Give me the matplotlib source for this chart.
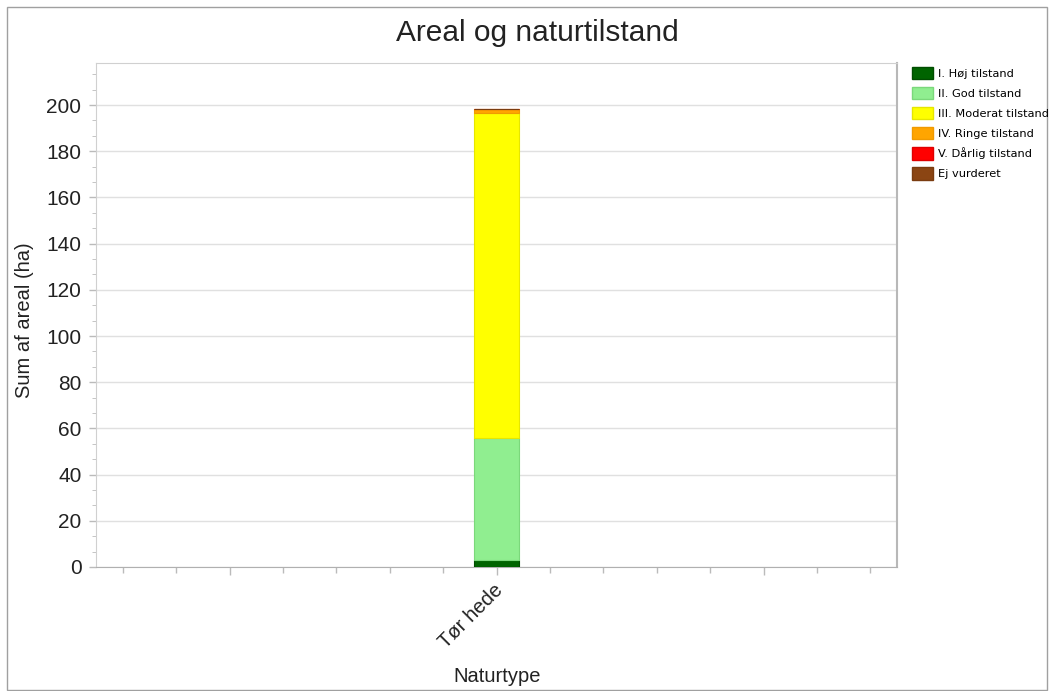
import matplotlib
matplotlib.use("Agg")
import matplotlib.pyplot as plt
from matplotlib.ticker import MultipleLocator, AutoMinorLocator, FixedLocator
from matplotlib.patches import Patch, Rectangle
from matplotlib.transforms import ScaledTranslation, blended_transform_factory
import numpy as np

categories = ["Tør hede"]
series_names = ["I. Høj tilstand", "II. God tilstand", "III. Moderat tilstand",
                "IV. Ringe tilstand", "V. Dårlig tilstand", "Ej vurderet"]
series_values = [[2.9], [52.8], [141.0], [1.7], [0.0], [0.0]]
colors = ["#006400", "#90EE90", "#FFFF00", "#FFA500", "#FF0000", "#8B4513"]
edge_colors = ["#004d00", "#7bd87b", "#e6e600", "#f09a00", "#e00000", "#7a3c10"]

plt.rcParams['font.family'] = ['Liberation Sans', 'DejaVu Sans']

fig = plt.figure(figsize=(10.54, 6.91), dpi=100)
fig.patches.append(Rectangle((7/1054, 1-690/691), (1047-7)/1054, (690-7)/691,
                             transform=fig.transFigure, fill=False,
                             edgecolor="#a0a0a0", linewidth=1.0))
ax = fig.add_axes([96/1054, 1-567/691, (897-96)/1054, (567-63)/691])

x = np.arange(len(categories))
bottom = np.zeros(len(categories))
for name, vals, c, ec in zip(series_names, series_values, colors, edge_colors):
    v = np.array(vals)
    ax.bar(x, v, width=0.17, bottom=bottom, color=c, edgecolor=ec, linewidth=0.8,
           label=name, zorder=3)
    bottom += v

ax.set_xlim(-1.5, 1.5)
ax.set_ylim(0, 218.2)
ax.yaxis.set_major_locator(MultipleLocator(20))
ax.yaxis.set_minor_locator(AutoMinorLocator(3))
ax.xaxis.set_major_locator(FixedLocator([-1, 0, 1]))
ax.xaxis.set_minor_locator(MultipleLocator(0.2))
ax.set_xticklabels([])
trans = blended_transform_factory(ax.transData, ax.transAxes) + \
    ScaledTranslation(-3/100, -13/100, fig.dpi_scale_trans)
for xi, cat in zip(x, categories):
    ax.text(xi, 0, cat, transform=trans, rotation=45, ha="right", va="top",
            rotation_mode="anchor", fontsize=14.5, color="#222222", clip_on=False)
ax.tick_params(axis="y", labelsize=15, labelcolor="#222222", color="#bbbbbb",
               length=5, width=1, pad=5.5)
ax.tick_params(axis="y", which="minor", color="#bbbbbb", length=3)
ax.tick_params(axis="x", which="major", color="#bbbbbb", length=6, width=1, pad=6)
ax.tick_params(axis="x", which="minor", color="#bbbbbb", length=4, width=1)
ax.grid(axis="y", color="#e0e0e0", linewidth=1, zorder=0)
for s in ["top", "right", "left"]:
    ax.spines[s].set_color("#d0d0d0")
ax.spines["bottom"].set_color("#b0b0b0")
ax.spines["right"].set_color("#b8b8b8")
ax.spines["right"].set_linewidth(1.5)

fig.text(25/1054, 1-320/691, "Sum af areal (ha)", fontsize=14.5, color="#222222",
         rotation=90, ha="center", va="center")
fig.text(497/1054, 1-677/691, "Naturtype", fontsize=14.5, color="#222222",
         ha="center", va="center")
fig.text(537/1054, 1-33/691, "Areal og naturtilstand", fontsize=21.5,
         ha="center", va="center", color="#222222")

handles = [Patch(facecolor=c, edgecolor=ec) for c, ec in zip(colors, edge_colors)]
leg = fig.legend(handles, series_names, loc="upper left",
                 bbox_to_anchor=(907/1054, 1-62/691), frameon=False,
                 prop={"family": "DejaVu Sans", "size": 8.2},
                 handlelength=1.9, handleheight=1.3, labelspacing=0.68,
                 handletextpad=0.45, borderaxespad=0)

fig.savefig("out.png", dpi=100)
